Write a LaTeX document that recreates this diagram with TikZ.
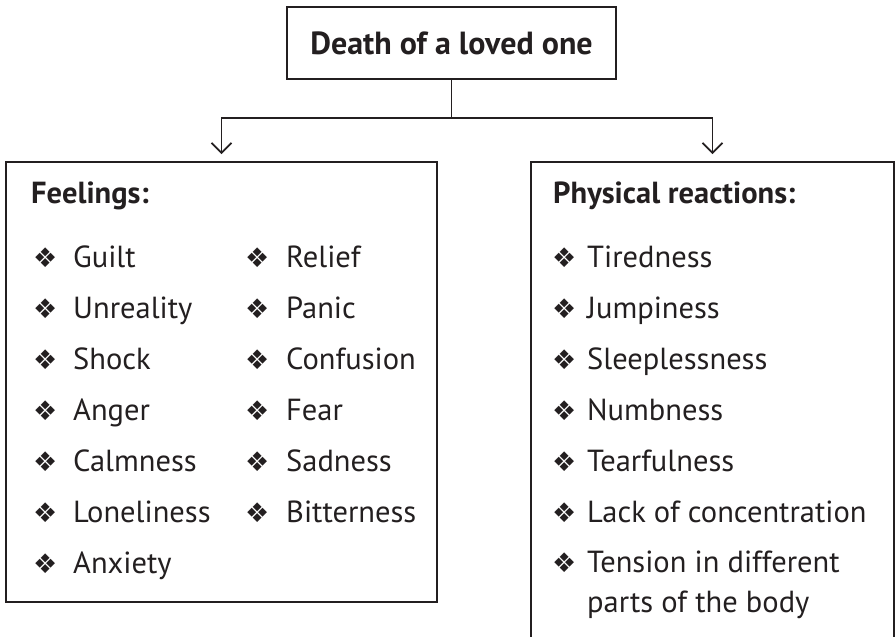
\documentclass[tikz,border=0pt]{standalone}
\usepackage{fontspec}
\setmainfont{PT Sans}
\newfontfamily\dingfont{DejaVu Sans}
\usetikzlibrary{arrows.meta}
\definecolor{ink}{HTML}{231F20}
\newcommand{\bul}{{\dingfont\fontsize{27}{27}\selectfont ❖}}

\begin{document}
\begin{tikzpicture}
[x=1pt, y=-1pt, every node/.style={inner sep=0pt, text=ink},
 box/.style={rectangle, draw=ink, line width=1.8pt},
 conn/.style={draw=ink, line width=1.8pt},
 item/.style={anchor=base west, align=left, font=\fontsize{30.5}{39.5}\selectfont},
 head/.style={anchor=base west, font=\fontsize{30.5}{39.5}\selectfont\bfseries}]
\useasboundingbox (0,0) rectangle (895,637);
\clip (0,0) rectangle (895,637);
\node (death) [box, minimum width=329pt, minimum height=72pt, font=\fontsize{32}{36}\selectfont\bfseries] at (451.5, 43) {Death of a loved one};
\node (feel) [box, minimum width=431pt, minimum height=440pt] at (221.5, 382) {};
\node (phys) [box, minimum width=363pt, minimum height=498pt] at (712.5, 411) {};
\draw [conn] (death.south) -- ++(0, 38) coordinate (split);
\draw [conn, -{Straight Barb[length=10pt, width=20pt]}, shorten >=7pt] (split) -| (feel.north);
\draw [conn, -{Straight Barb[length=10pt, width=20pt]}, shorten >=7pt] (split) -| (phys.north);
\node (feelhead) [head] at (31, 203) {Feelings:};
\node (physhead) [head] at (553, 203) {Physical reactions:};
\foreach \txt [count=\i] in {Guilt, Unreality, Shock, Anger, Calmness, Loneliness, Anxiety}
  \node (f\i) [item] at (33, 216+51*\i) {\makebox[40pt][l]{\bul}\txt};
\foreach \txt [count=\i] in {Relief, Panic, Confusion, Fear, Sadness, Bitterness}
  \node (g\i) [item] at (245, 216+51*\i) {\makebox[41pt][l]{\bul}\txt};
\foreach \txt [count=\i] in {Tiredness, Jumpiness, Sleeplessness, Numbness, Tearfulness, Lack of concentration}
  \node (p\i) [item] at (552, 216+51*\i) {\makebox[35pt][l]{\bul}\txt};
\node (p7) [item] at (552, 612) {\makebox[35pt][l]{\bul}Tension in different\\\hspace*{35pt}parts of the body};
\end{tikzpicture}
\end{document}
